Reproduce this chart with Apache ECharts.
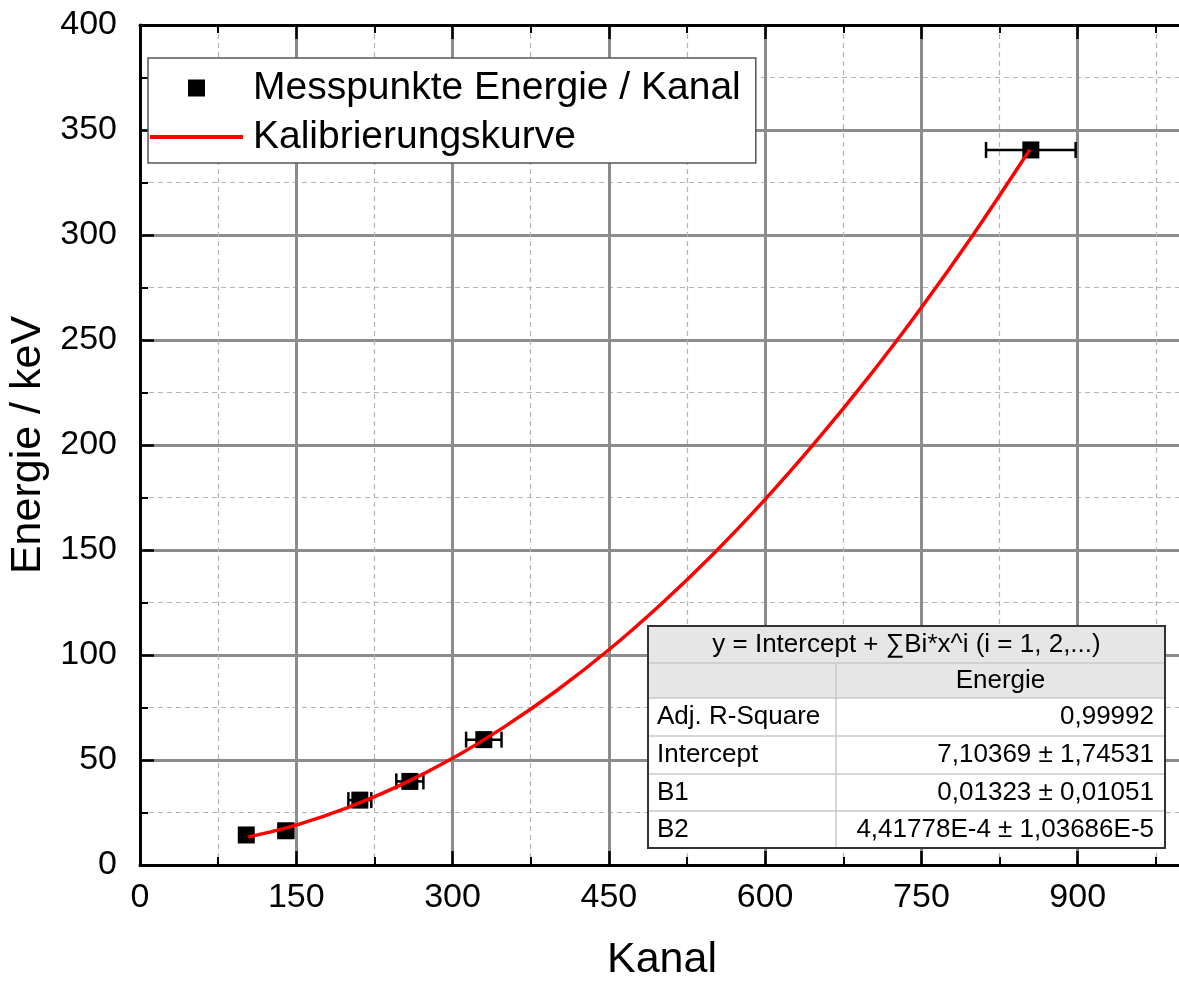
<!DOCTYPE html>
<html>
<head>
<meta charset="utf-8">
<script src="https://cdn.jsdelivr.net/npm/echarts@6/dist/echarts.min.js"></script>
<style>
  html, body { margin: 0; padding: 0; background: #fff; }
  #chart { width: 1179px; height: 985px; }
</style>
</head>
<body>
<div id="chart"></div>
<script>
// Messpunkte: Kanal, Energie (keV) und Kanal-Unsicherheit
const kanal = [102, 140, 211, 259, 330, 855];
const energie = [14.3, 16.3, 30.9, 39.8, 59.7, 340.5];
const kanalFehler = [5, 7, 11, 13, 17, 43];

// Kalibrierungskurve (Stützstellen)
const kurveKanal = [104, 150, 200, 250, 300, 350, 400, 450, 500, 550, 600, 650, 700, 750, 800, 854];
const kurveEnergie = [13.3, 19.0, 27.4, 38.0, 50.8, 65.9, 83.1, 102.5, 124.2, 148.0, 174.1, 202.4, 232.8, 265.5, 300.4, 340.6];

// Achsenbeschriftungen
const xTickLabels = [0, 150, 300, 450, 600, 750, 900];
const yTickLabels = [0, 50, 100, 150, 200, 250, 300, 350, 400];

// Fit-Tabelle
const tabelleKopf = 'y = Intercept + \u2211Bi*x^i (i = 1, 2,...)';
const tabelleSpalte = 'Energie';
const tabelleNamen = ['Adj. R-Square', 'Intercept', 'B1', 'B2'];
const tabelleWerte = ['0,99992', '7,10369 \u00b1 1,74531', '0,01323 \u00b1 0,01051', '4,41778E-4 \u00b1 1,03686E-5'];

const FONT = 'Liberation Sans, Arial, sans-serif';
const xStep = xTickLabels[1] - xTickLabels[0];
const yStep = yTickLabels[1] - yTickLabels[0];
// x-Achse läuft über den rechten Rand hinaus (eine Stufe nach 900)
const xMax = xTickLabels[xTickLabels.length - 1] + xStep;

// Tabelle als Grafik-Elemente
function buildTable() {
  const L = 648, R = 1165, C = 836;
  const rows = [626, 663, 698, 736, 774, 811, 848];
  const fs = 26;
  const els = [];
  els.push({ type: 'rect', shape: { x: L, y: rows[0], width: R - L, height: rows[6] - rows[0] },
             style: { fill: '#fff' }, z: 100 });
  els.push({ type: 'rect', shape: { x: L, y: rows[0], width: R - L, height: rows[2] - rows[0] },
             style: { fill: '#e6e6e6' }, z: 100 });
  for (let i = 1; i < rows.length - 1; i++) {
    els.push({ type: 'line', shape: { x1: L, y1: rows[i], x2: R, y2: rows[i] },
               style: { stroke: '#c8c8c8', lineWidth: 1.5 }, z: 101 });
  }
  els.push({ type: 'line', shape: { x1: C, y1: rows[1], x2: C, y2: rows[6] },
             style: { stroke: '#c8c8c8', lineWidth: 1.5 }, z: 101 });
  els.push({ type: 'rect', shape: { x: L, y: rows[0], width: R - L, height: rows[6] - rows[0] },
             style: { fill: 'none', stroke: '#333', lineWidth: 2 }, z: 102 });
  const txt = (x, y, s, align) => ({
    type: 'text', x: x, y: y, z: 103,
    style: { text: s, fill: '#000', font: fs + 'px ' + FONT, textAlign: align, textVerticalAlign: 'middle' }
  });
  els.push(txt((L + R) / 2, (rows[0] + rows[1]) / 2, tabelleKopf, 'center'));
  els.push(txt((C + R) / 2, (rows[1] + rows[2]) / 2, tabelleSpalte, 'center'));
  for (let i = 0; i < tabelleNamen.length; i++) {
    const cy = (rows[i + 2] + rows[i + 3]) / 2;
    els.push(txt(L + 9, cy, tabelleNamen[i], 'left'));
    els.push(txt(R - 11, cy, tabelleWerte[i], 'right'));
  }
  return els;
}

const axisCommon = {
  type: 'value',
  axisLine: { show: true, onZero: false, lineStyle: { color: '#000', width: 3 } },
  axisTick: { show: true, inside: true, length: 14, lineStyle: { color: '#000', width: 2.5 } },
  minorTick: { show: true, splitNumber: 2, length: 8, lineStyle: { color: '#000', width: 2 } }
};

const chart = echarts.init(document.getElementById('chart'), null, { renderer: 'canvas' });

chart.setOption({
  backgroundColor: '#fff',
  animation: false,
  textStyle: { fontFamily: FONT },
  grid: { left: 140, top: 25, height: 840, width: 1094, containLabel: false, outerBoundsMode: 'none' },
  legend: {
    orient: 'vertical',
    left: 148, top: 58,
    padding: [8, 15, 4, 2],
    itemWidth: 93, itemHeight: 17, itemGap: 5,
    backgroundColor: '#fff',
    borderColor: '#555', borderWidth: 1.5,
    symbolKeepAspect: true,
    textStyle: { fontSize: 39, color: '#000', fontFamily: FONT, lineHeight: 44, padding: [0, 0, 0, 5] },
    data: [
      { name: 'Messpunkte Energie / Kanal', icon: 'path://M0,0H10V10H0Z', itemStyle: { color: '#000', opacity: 1 } },
      { name: 'Kalibrierungskurve', icon: 'path://M0,0H93V4H0Z', itemStyle: { color: '#ff0000', opacity: 1 } }
    ],
    z: 50
  },
  xAxis: [
    Object.assign({}, axisCommon, {
      position: 'bottom',
      min: xTickLabels[0], max: xMax, interval: xStep,
      splitLine: { show: true, lineStyle: { color: '#8c8c8c', width: 3 } },
      minorSplitLine: { show: true, lineStyle: { color: '#b4b4b4', width: 1.2, type: [5, 4] } },
      axisLabel: { fontSize: 34, color: '#000', margin: 16, fontFamily: FONT },
      name: 'Kanal', nameLocation: 'middle', nameGap: 74,
      nameTextStyle: { fontSize: 43, color: '#000', fontFamily: FONT, padding: [0, 50, 0, 0] }
    }),
    Object.assign({}, axisCommon, {
      position: 'top',
      min: xTickLabels[0], max: xMax, interval: xStep,
      splitLine: { show: false },
      axisLabel: { show: false }
    })
  ],
  yAxis: [
    Object.assign({}, axisCommon, {
      position: 'left',
      min: yTickLabels[0], max: yTickLabels[yTickLabels.length - 1], interval: yStep,
      splitLine: { show: true, lineStyle: { color: '#8c8c8c', width: 3 } },
      minorSplitLine: { show: true, lineStyle: { color: '#b4b4b4', width: 1.2, type: [5, 4] } },
      axisLabel: { fontSize: 34, color: '#000', margin: 23, fontFamily: FONT },
      name: 'Energie / keV', nameLocation: 'middle', nameGap: 78,
      nameTextStyle: { fontSize: 43, color: '#000', fontFamily: FONT }
    })
  ],
  series: [
    {
      // horizontale Fehlerbalken
      type: 'custom',
      name: 'Kanal-Fehler',
      data: kanal.map((k, i) => [k, energie[i], kanalFehler[i]]),
      encode: { x: 0, y: 1 },
      silent: true,
      z: 2,
      renderItem: function (params, api) {
        const x = api.value(0), y = api.value(1), e = api.value(2);
        const a = api.coord([x - e, y]);
        const b = api.coord([x + e, y]);
        const h = 8;
        const st = { stroke: '#000', lineWidth: 2.5 };
        return {
          type: 'group',
          children: [
            { type: 'line', shape: { x1: a[0], y1: a[1], x2: b[0], y2: b[1] }, style: st },
            { type: 'line', shape: { x1: a[0], y1: a[1] - h, x2: a[0], y2: a[1] + h }, style: st },
            { type: 'line', shape: { x1: b[0], y1: b[1] - h, x2: b[0], y2: b[1] + h }, style: st }
          ]
        };
      }
    },
    {
      type: 'scatter',
      name: 'Messpunkte Energie / Kanal',
      data: kanal.map((k, i) => [k, energie[i]]),
      symbol: 'rect',
      symbolSize: 17,
      itemStyle: { color: '#000', opacity: 1 },
      z: 3
    },
    {
      type: 'line',
      name: 'Kalibrierungskurve',
      data: kurveKanal.map((k, i) => [k, kurveEnergie[i]]),
      smooth: 0.3,
      symbol: 'none',
      showSymbol: false,
      lineStyle: { color: '#ff0000', width: 3.5 },
      itemStyle: { color: '#ff0000' },
      z: 4
    }
  ],
  graphic: buildTable()
});
</script>
</body>
</html>
